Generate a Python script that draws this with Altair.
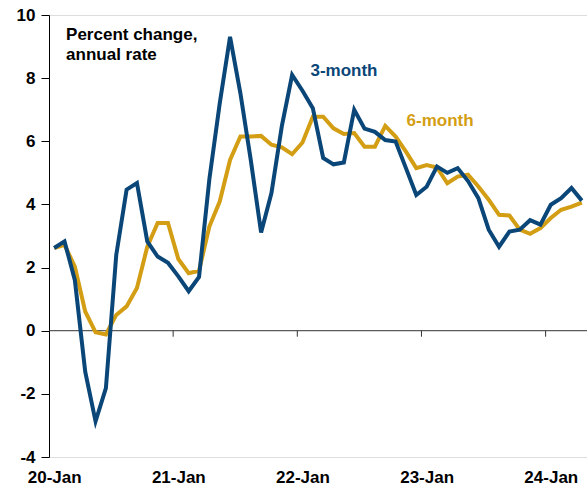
import json
import altair as alt
import pandas as pd

# ---- data (monthly, Jan 2020 .. Apr 2024) ----
months = pd.date_range("2020-01-01", "2024-04-01", freq="MS").strftime("%Y-%m").tolist()

three_month = [
    2.62, 2.83, 1.6, -1.3, -2.87, -1.82, 2.4, 4.47, 4.68, 2.83, 2.35, 2.15,
    1.72, 1.25, 1.7, 4.8, 7.2, 9.31, 7.52, 5.41, 3.11, 4.36, 6.47, 8.1,
    7.6, 7.05, 5.47, 5.27, 5.33, 7.0, 6.4, 6.3, 6.04, 5.99, 5.15, 4.3,
    4.56, 5.2, 5.0, 5.15, 4.74, 4.2, 3.2, 2.66, 3.14, 3.2, 3.5, 3.36,
    3.99, 4.2, 4.52, 4.12,
]
six_month = [
    2.62, 2.72, 2.03, 0.61, -0.05, -0.12, 0.5, 0.77, 1.35, 2.66, 3.41, 3.41,
    2.27, 1.82, 1.9, 3.3, 4.09, 5.41, 6.15, 6.15, 6.17, 5.89, 5.81, 5.59,
    5.96, 6.78, 6.78, 6.41, 6.23, 6.26, 5.83, 5.83, 6.49, 6.15, 5.67, 5.15,
    5.25, 5.17, 4.67, 4.88, 4.94, 4.57, 4.15, 3.67, 3.65, 3.2, 3.07, 3.25,
    3.57, 3.83, 3.93, 4.06,
]
tick_labels = ["20-Jan", "21-Jan", "22-Jan", "23-Jan", "24-Jan"]
y_ticks = [-4, -2, 0, 2, 4, 6, 8, 10]

BLUE = "#0A4677"
GOLD = "#D39E14"
FONT = "Liberation Sans"
FS = 17

df = pd.DataFrame({
    "month": months,
    "pos": [i + 0.5 for i in range(len(months))],
    "three": three_month,
    "six": six_month,
})

n = len(months)
xscale = alt.Scale(domain=[0, n], nice=False, zero=False)
yscale = alt.Scale(domain=[-4, 10], nice=False, zero=False)

label_expr = f"{json.dumps(tick_labels)}[floor(datum.value / 12)]"

x_axis = alt.Axis(
    values=[12 * k + 0.5 for k in range(len(tick_labels))],
    labelExpr=label_expr,
    domain=False, ticks=False, grid=False, title=None,
    labelFont=FONT, labelFontSize=FS, labelFontWeight="bold", labelColor="black",
    labelPadding=12, labelAngle=0,
)
y_axis = alt.Axis(
    values=y_ticks, grid=False, title=None,
    labelExpr="'' + datum.value",
    domainColor="black", tickColor="black", tickSize=8, labelPadding=6,
    labelFont=FONT, labelFontSize=FS, labelFontWeight="bold", labelColor="black",
)

base = alt.Chart(df)

six_line = base.mark_line(color=GOLD, strokeWidth=4).encode(
    x=alt.X("pos:Q", scale=xscale, axis=x_axis),
    y=alt.Y("six:Q", scale=yscale, axis=y_axis),
)
three_line = base.mark_line(color=BLUE, strokeWidth=4).encode(
    x=alt.X("pos:Q", scale=xscale),
    y=alt.Y("three:Q", scale=yscale),
)

zero_rule = alt.Chart(pd.DataFrame({"z": [0]})).mark_rule(color="#333333", strokeWidth=1).encode(
    y=alt.Y("z:Q", scale=yscale),
)
year_ticks = alt.Chart(pd.DataFrame({"t": [12, 24, 36, 48]})).mark_rule(
    color="#333333", strokeWidth=1, y2Offset=6
).encode(
    x=alt.X("t:Q", scale=xscale),
    y=alt.datum(0),
    y2=alt.datum(0),
)

def label(text, x, y, color):
    return alt.Chart(pd.DataFrame({"t": [text]})).mark_text(
        align="left", baseline="alphabetic", font=FONT, fontSize=FS,
        fontWeight="bold", color=color,
    ).encode(x=alt.datum(x), y=alt.datum(y), text="t:N")

texts = (
    label("Percent change,", 1.65, 9.21, "black")
    + label("annual rate", 1.65, 8.58, "black")
    + label("3-month", 25.27, 8.07, BLUE)
    + label("6-month", 34.56, 6.49, GOLD)
)

chart = alt.layer(zero_rule, year_ticks, six_line, three_line, texts).properties(
    width=538, height=442,
    autosize=alt.AutoSizeParams(type="none"),
    padding={"left": 49, "top": 15, "right": 0, "bottom": 31},
).configure_view(stroke=None).configure(background="white")

chart.save("out.html", embed_options={"renderer": "svg", "actions": False})
